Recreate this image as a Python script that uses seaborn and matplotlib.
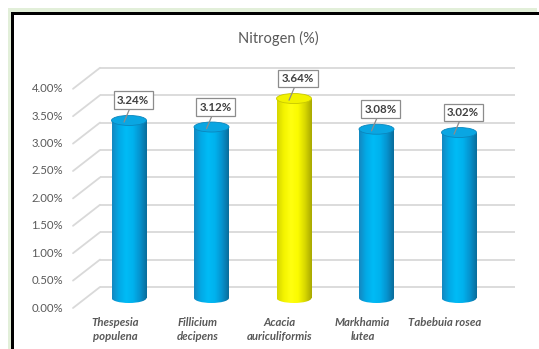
import numpy as np
import pandas as pd
import matplotlib
matplotlib.use("Agg")
import matplotlib.pyplot as plt
import seaborn as sns
from matplotlib.patches import Rectangle, Ellipse
from matplotlib.colors import LinearSegmentedColormap

# --- data ---------------------------------------------------------------
species = ["Thespesia\npopulena", "Fillicium\ndecipens", "Acacia\nauriculiformis",
           "Markhamia\nlutea", "Tabebuia rosea"]
nitrogen = [3.24, 3.12, 3.64, 3.08, 3.02]
highlight = [False, False, True, False, False]
ticks = [0.0, 0.5, 1.0, 1.5, 2.0, 2.5, 3.0, 3.5, 4.0]
title = "Nitrogen (%)"

df = pd.DataFrame({"species": species, "nitrogen": nitrogen})

sns.set_theme(style="white")
plt.rcParams["font.family"] = ["Lato", "DejaVu Sans"]

W, H = 539, 349
fig = plt.figure(figsize=(W / 100, H / 100), dpi=100)
fig.patch.set_facecolor("white")

# outer frame: pale green band with a heavy black rule inside it
fig.add_artist(Rectangle((8 / W, 0), (537 - 8) / W, (H - 8) / H,
                         transform=fig.transFigure, facecolor="#e2efd9",
                         edgecolor="none", zorder=-3))
fig.add_artist(Rectangle((11 / W, 0), (W - 11) / W, (H - 12) / H,
                         transform=fig.transFigure, facecolor="black",
                         edgecolor="none", zorder=-2))
fig.add_artist(Rectangle((14 / W, 0), (W - 14) / W, (H - 15) / H,
                         transform=fig.transFigure, facecolor="white",
                         edgecolor="none", zorder=-1))

# axes in pixel layout
ax_l, ax_r, ax_b, ax_t = 60, 530, 19, 289   # px (bottom measured from bottom)
ax = fig.add_axes([ax_l / W, ax_b / H, (ax_r - ax_l) / W, (ax_t - ax_b) / H])
ax.patch.set_alpha(0)

px_per_cat = 82.5
first_center = 129
px_per_unit = 54.8

def xdata(px):
    return (px - first_center) / px_per_cat

ax.set_xlim(xdata(ax_l), xdata(ax_r))
ax.set_ylim((298 - (H - ax_b)) / px_per_unit, (298 - (H - ax_t)) / px_per_unit)
ax.axis("off")

# pseudo-3D depth offsets
back_dy = 11 / px_per_unit
front_dy = 10 / px_per_unit
front_dx = -14 / px_per_cat
grid_c = "#d9d9d9"
for v in ticks:
    ax.plot([xdata(100), xdata(515)], [v + back_dy, v + back_dy],
            color=grid_c, lw=1.3, zorder=0, solid_capstyle="butt")
    ax.plot([xdata(73), xdata(100)], [v - front_dy, v + back_dy],
            color=grid_c, lw=1.3, zorder=0)
    ax.text(xdata(63), v - front_dy, f"{v:.2f}%", ha="right", va="center",
            fontsize=8.2, color="#595959")

bar_w = 35 / px_per_cat
palette = ["#00b0f0" if not h else "#ffff00" for h in highlight]
sns.barplot(data=df, x="species", y="nitrogen", hue="species", palette=palette,
            width=bar_w, ax=ax, legend=False, zorder=2)
ax.set_xlim(xdata(ax_l), xdata(ax_r))
ax.axis("off")

blue_cmap = LinearSegmentedColormap.from_list(
    "cyl_blue", ["#1487bf", "#03a9e6", "#00bbf6", "#00b2ee", "#0693cf", "#0a6c9a"])
yellow_cmap = LinearSegmentedColormap.from_list(
    "cyl_yellow", ["#d5d500", "#f4f400", "#ffff10", "#fbfb00", "#d8d800", "#a8a800"])
grad = np.linspace(0, 1, 256).reshape(1, -1)
cap_h = 10 / px_per_unit

for bar, val, hl in zip(ax.patches, nitrogen, highlight):
    x0 = bar.get_x()
    w = bar.get_width()
    cx = x0 + w / 2
    cmap = yellow_cmap if hl else blue_cmap
    bar.set_alpha(0)
    body = Rectangle((x0, 0), w, val, transform=ax.transData)
    im = ax.imshow(grad, cmap=cmap, aspect="auto", extent=[x0, x0 + w, 0, val],
                   zorder=3, interpolation="bilinear")
    im.set_clip_path(body)
    base = Ellipse((cx, 0), w, cap_h, transform=ax.transData)
    im2 = ax.imshow(grad, cmap=cmap, aspect="auto",
                    extent=[x0, x0 + w, -cap_h / 2, cap_h / 2],
                    zorder=2.9, interpolation="bilinear")
    im2.set_clip_path(base)
    top_c = "#f2f200" if hl else "#0aa6e2"
    edge_c = "#c8c800" if hl else "#0b86bd"
    ax.add_patch(Ellipse((cx, val), w, cap_h, facecolor=top_c,
                         edgecolor=edge_c, lw=0.6, zorder=4))
    ax.annotate(f"{val:.2f}%", xy=(cx - 0.06, val - 0.03),
                xytext=(cx + 0.05, val + 20 / px_per_unit),
                ha="center", va="center", fontsize=8.3, fontweight="bold",
                color="#404040", zorder=6,
                bbox=dict(boxstyle="square,pad=0.3", facecolor="white",
                          edgecolor="#8c8c8c", lw=0.9),
                arrowprops=dict(arrowstyle="-", color="#8c8c8c", lw=0.9,
                                shrinkA=0, shrinkB=0))

for i, name in enumerate(species):
    ax.text(i + front_dx, (298 - 317) / px_per_unit, name, ha="center", va="top",
            fontsize=8.2, fontstyle="italic", fontweight="bold", color="#595959",
            linespacing=1.3)

fig.text(278 / W, 1 - 38 / H, title, ha="center", va="center",
         fontsize=10.5, color="#595959")

fig.savefig("out.png", dpi=100)
